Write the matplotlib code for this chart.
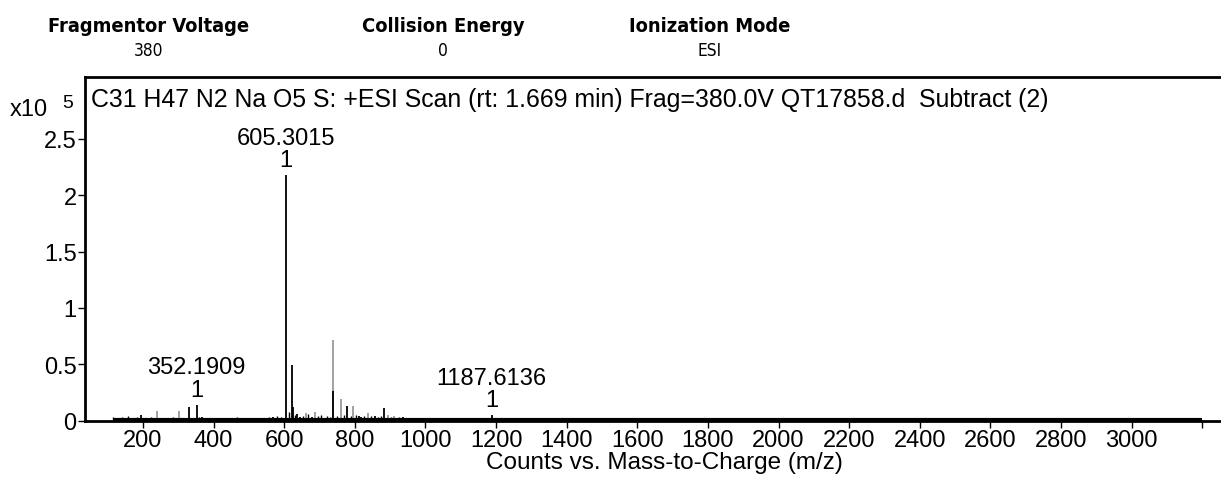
import matplotlib
matplotlib.use("Agg")
import matplotlib.pyplot as plt
from matplotlib.ticker import FixedLocator, FixedFormatter

plt.rcParams['font.family'] = ['Liberation Sans', 'DejaVu Sans']

# ---------------- data (intensity in units of 1e5 counts) ----------------
header_titles = ["Fragmentor Voltage", "Collision Energy", "Ionization Mode"]
header_values = ["380", "0", "ESI"]

title_text = "C31 H47 N2 Na O5 S: +ESI Scan (rt: 1.669 min) Frag=380.0V QT17858.d  Subtract (2)"
xlabel_text = "Counts vs. Mass-to-Charge (m/z)"

# main (black) peaks
peak_mz = [196, 331, 352.19, 366, 568, 605.30, 621, 626, 637, 646, 678, 711,
           739, 779, 812, 819, 857, 882, 937, 965, 1187.61]
peak_int = [0.05, 0.12, 0.14, 0.03, 0.03, 2.18, 0.49, 0.12, 0.06, 0.03, 0.03, 0.02,
            0.26, 0.13, 0.04, 0.03, 0.04, 0.11, 0.03, 0.02, 0.05]

# lighter (grey) peaks
grey_mz = [239, 302, 661, 687, 739, 761, 795, 838, 895, 911]
grey_int = [0.09, 0.09, 0.07, 0.08, 0.72, 0.19, 0.13, 0.07, 0.05, 0.04]

# small noise peaks
noise_mz = [116, 124, 131, 140, 150, 158, 166, 175, 184, 205, 214, 222, 231, 248,
            258, 266, 276, 285, 293, 311, 320, 340, 360, 372, 381, 392, 404, 415,
            428, 440, 452, 466, 478, 490, 503, 517, 530, 545, 556, 580, 592, 615,
            632, 652, 668, 695, 704, 722, 730, 750, 770, 788, 803, 826, 846, 866,
            874, 903, 925, 948, 980, 1000, 1020, 1045, 1070, 1100, 1130, 1160,
            1210, 1240, 1270, 1310]
noise_int = [0.03, 0.02, 0.02, 0.03, 0.02, 0.04, 0.02, 0.02, 0.03, 0.02, 0.02, 0.03,
             0.02, 0.02, 0.02, 0.02, 0.02, 0.03, 0.02, 0.02, 0.02, 0.02, 0.03, 0.02,
             0.02, 0.02, 0.02, 0.02, 0.02, 0.02, 0.02, 0.03, 0.02, 0.02, 0.02, 0.02,
             0.02, 0.02, 0.03, 0.04, 0.03, 0.08, 0.05, 0.04, 0.06, 0.04, 0.05, 0.04,
             0.03, 0.04, 0.05, 0.04, 0.05, 0.04, 0.04, 0.03, 0.04, 0.03, 0.03, 0.02,
             0.02, 0.02, 0.02, 0.02, 0.02, 0.02, 0.02, 0.02, 0.02, 0.02, 0.02, 0.02]

baseline_mz = [116, 3200]
baseline_int = [0.006, 0.006]

labeled_mz = [352.19, 605.30, 1187.61]
labeled_int = [0.14, 2.18, 0.05]
labeled_text = ["352.1909", "605.3015", "1187.6136"]

xticks = [200, 400, 600, 800, 1000, 1200, 1400, 1600, 1800, 2000, 2200, 2400,
          2600, 2800, 3000, 3200]
xtick_labels = ["200", "400", "600", "800", "1000", "1200", "1400", "1600", "1800",
                "2000", "2200", "2400", "2600", "2800", "3000", ""]
yticks = [0, 0.5, 1, 1.5, 2, 2.5]
ytick_labels = ["0", "0.5", "1", "1.5", "2", "2.5"]

# ---------------- figure ----------------
W, H = 1221, 481
fig = plt.figure(figsize=(W / 100, H / 100), dpi=100)
ax = fig.add_axes([85 / W, 1 - 422 / H, 1 - 85 / W, (422 - 78) / H])

ax.vlines(noise_mz, 0, noise_int, color='black', lw=1.0)
ax.vlines(grey_mz, 0, grey_int, color='#9a9a9a', lw=1.3)
ax.vlines(peak_mz, 0, peak_int, color='black', lw=1.3)
ax.plot(baseline_mz, baseline_int, color='black', lw=3.0, solid_capstyle='butt')

ax.set_xlim(36, 3253)
ax.set_ylim(-0.003, 3.05)

ax.spines['right'].set_visible(False)
for spine in ['left', 'top', 'bottom']:
    ax.spines[spine].set_linewidth(2.0)

ax.xaxis.set_major_locator(FixedLocator(xticks))
ax.xaxis.set_major_formatter(FixedFormatter(xtick_labels))
ax.yaxis.set_major_locator(FixedLocator(yticks))
ax.yaxis.set_major_formatter(FixedFormatter(ytick_labels))
ax.tick_params(axis='both', direction='out', length=5, width=1.0, labelsize=17,
               pad=1, colors='black')

ax.set_xlabel(xlabel_text, fontsize=17.5)
ax.xaxis.set_label_coords((664 - 85) / (W - 85), -0.088)

ax.text(6 / (W - 85), 0.935, title_text, transform=ax.transAxes, fontsize=17.9,
        va='center', ha='left')

for mz, it, lab in zip(labeled_mz, labeled_int, labeled_text):
    ax.annotate("1", xy=(mz, it), xytext=(0, 3), textcoords='offset points',
                ha='center', va='bottom', fontsize=17)
    ax.annotate(lab, xy=(mz, it), xytext=(0, 19), textcoords='offset points',
                ha='center', va='bottom', fontsize=17)

# exponent label
fig.text(10 / W, 1 - 110 / H, "x10", fontsize=17, va='center', ha='left')
fig.text(62 / W, 1 - 104 / H, "5", fontsize=14, va='center', ha='left')

# header
header_x = [149, 443, 710]
for hx, t, v in zip(header_x, header_titles, header_values):
    fig.text(hx / W, 1 - 26 / H, t, fontsize=14.4, fontweight='bold', ha='center',
             va='center', family='DejaVu Sans', fontstretch='condensed')
    fig.text(hx / W, 1 - 51 / H, v, fontsize=12.5, ha='center', va='center',
             family='DejaVu Sans', fontstretch='condensed')

fig.savefig("out.png", dpi=100)
